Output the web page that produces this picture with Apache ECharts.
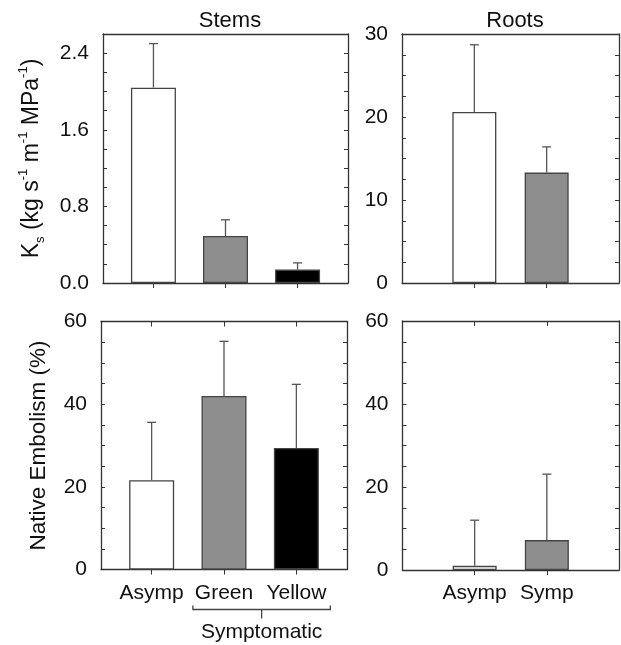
<!DOCTYPE html>
<html>
<head>
<meta charset="utf-8">
<script src="https://cdn.jsdelivr.net/npm/echarts@6/dist/echarts.min.js"></script>
<style>
    html, body {margin: 0; padding: 0; background: #fff;}
    #chart {width: 621px; height: 645px;}
</style>
</head>
<body>
<div id="chart"></div>
<script>
// данные
let stemCats = ['Asymp', 'Green', 'Yellow']
let rootCats = ['Asymp', 'Symp']
let stemKs = [2.04, 0.49, 0.14]
let stemKsErr = [0.46, 0.17, 0.07]
let rootKs = [20.6, 13.3]
let rootKsErr = [8.1, 3.1]
let stemEmb = [21.6, 42.0, 29.4]
let stemEmbErr = [14.0, 13.2, 15.4]
let rootEmb = [1.0, 7.2]
let rootEmbErr = [11.0, 15.9]
let stemColors = ['#ffffff', '#8e8e8e', '#000000']
let rootColors = ['#ffffff', '#8e8e8e']

let ksTicks = [0, 0.8, 1.6, 2.4]
let rootKsTicks = [0, 10, 20, 30]
let embTicks = [0, 20, 40, 60]

let font = 'Liberation Sans'
let lineColor = '#333'
let textColor = '#111'

let grids = [
    {left: 103, top: 34, width: 245, height: 249},
    {left: 402, top: 34, width: 217, height: 249},
    {left: 101, top: 321.5, width: 246, height: 248},
    {left: 402.5, top: 321, width: 216.5, height: 249},
]

function positions(cats) {
    return cats.map((c, i) => i + 1)
}

/**
 * Пара осей X (низ и верх) для панели
 */
function xAxes(gridIndex, cats, min, max, topTicks) {
    let pos = positions(cats)
    let line = {show: true, onZero: false, lineStyle: {color: lineColor, width: 1.3}}
    return [
        {
            type: 'value', gridIndex: gridIndex, min: min, max: max, position: 'bottom',
            axisLine: line, splitLine: {show: false},
            axisTick: {show: true, inside: false, length: 5, customValues: pos, lineStyle: {color: lineColor}},
            axisLabel: {
                show: gridIndex >= 2, customValues: pos, margin: 13,
                fontFamily: font, fontSize: 21, color: textColor,
                formatter: (v) => cats[Math.round(v) - 1] || ''
            },
        },
        {
            type: 'value', gridIndex: gridIndex, min: min, max: max, position: 'top',
            axisLine: line, splitLine: {show: false},
            axisTick: {show: topTicks, inside: true, length: 5, customValues: pos, lineStyle: {color: lineColor}},
            axisLabel: {show: false},
        },
    ]
}

/**
 * Пара осей Y (лево и право) для панели
 */
function yAxes(gridIndex, max, interval, labels, name) {
    let line = {show: true, onZero: false, lineStyle: {color: lineColor, width: 1.3}}
    let tick = {show: true, inside: true, length: 4, lineStyle: {color: lineColor}}
    let left = {
        type: 'value', gridIndex: gridIndex, min: 0, max: max, interval: interval, position: 'left',
        axisLine: line, axisTick: tick, splitLine: {show: false},
        axisLabel: {
            customValues: labels, margin: 14, fontFamily: font, fontSize: 21, color: textColor,
            formatter: (v) => max < 5 ? v.toFixed(1) : String(v)
        },
    }
    if (name) {
        Object.assign(left, name)
    }
    let right = {
        type: 'value', gridIndex: gridIndex, min: 0, max: max, interval: interval, position: 'right',
        axisLine: line, axisTick: tick, splitLine: {show: false}, axisLabel: {show: false},
    }
    return [left, right]
}

function barSeries(gridIndex, values, colors, width) {
    return {
        type: 'bar', xAxisIndex: gridIndex * 2, yAxisIndex: gridIndex * 2,
        barWidth: width, z: 2,
        data: values.map((v, i) => ({
            value: [i + 1, v],
            itemStyle: {color: colors[i], borderColor: '#444', borderWidth: 1.3}
        })),
    }
}

function errSeries(gridIndex, values, errs) {
    return {
        type: 'custom', xAxisIndex: gridIndex * 2, yAxisIndex: gridIndex * 2, z: 3,
        data: values.map((v, i) => [i + 1, v, v + errs[i]]),
        renderItem(params, api) {
            let p0 = api.coord([api.value(0), api.value(1)])
            let p1 = api.coord([api.value(0), api.value(2)])
            let style = {stroke: '#555', lineWidth: 1.3}
            return {
                type: 'group',
                children: [
                    {type: 'line', shape: {x1: p0[0], y1: p0[1], x2: p1[0], y2: p1[1]}, style: style},
                    {type: 'line', shape: {x1: p1[0] - 4.5, y1: p1[1], x2: p1[0] + 4.5, y2: p1[1]}, style: style},
                ]
            }
        },
    }
}

let ksName = {
    name: '{m|K}{sub|s}{m| (kg s}{sup|-1}{m| m}{sup|-1}{m| MPa}{sup|-1}{m|)}',
    nameLocation: 'middle', nameGap: 56, nameRotate: 90,
    nameTextStyle: {
        rich: {
            m: {fontFamily: font, fontSize: 23, color: textColor, lineHeight: 30, verticalAlign: 'middle'},
            sup: {fontFamily: font, fontSize: 13, color: textColor, lineHeight: 13, verticalAlign: 'top'},
            sub: {fontFamily: font, fontSize: 13, color: textColor, lineHeight: 13, verticalAlign: 'bottom'},
        }
    },
}

let embName = {
    name: 'Native Embolism (%)',
    nameLocation: 'middle', nameGap: 51, nameRotate: 90,
    nameTextStyle: {fontFamily: font, fontSize: 22.5, color: textColor},
}

let titleStyle = {fontFamily: font, fontSize: 22, fontWeight: 'normal', color: textColor}

let option = {
    animation: false,
    backgroundColor: '#fff',
    title: [
        {text: 'Stems', left: 225, top: 5, textAlign: 'center', textStyle: titleStyle},
        {text: 'Roots', left: 510, top: 5, textAlign: 'center', textStyle: titleStyle},
    ],
    grid: grids.map(g => Object.assign({outerBoundsMode: 'none', containLabel: false}, g)),
    xAxis: [
        ...xAxes(0, stemCats, 0.3, 3.7, false),
        ...xAxes(1, rootCats, 0, 3, false),
        ...xAxes(2, stemCats, 0.3, 3.7, true),
        ...xAxes(3, rootCats, 0, 3, true),
    ],
    yAxis: [
        ...yAxes(0, 2.6, 0.2, ksTicks, ksName),
        ...yAxes(1, 30, 2.5, rootKsTicks, null),
        ...yAxes(2, 60, 5, embTicks, embName),
        ...yAxes(3, 60, 5, embTicks, null),
    ],
    series: [
        barSeries(0, stemKs, stemColors, 45),
        errSeries(0, stemKs, stemKsErr),
        barSeries(1, rootKs, rootColors, 44),
        errSeries(1, rootKs, rootKsErr),
        barSeries(2, stemEmb, stemColors, 45),
        errSeries(2, stemEmb, stemEmbErr),
        barSeries(3, rootEmb, rootColors, 44),
        errSeries(3, rootEmb, rootEmbErr),
    ],
}

let chart = echarts.init(document.getElementById('chart'), null, {renderer: 'canvas'})
chart.setOption(option)

// скобка "Symptomatic" под Green и Yellow
let bx0 = chart.convertToPixel({xAxisIndex: 4}, 1.57)
let bx1 = chart.convertToPixel({xAxisIndex: 4}, 3.47)
let bxc = (bx0 + bx1) / 2
let by = chart.convertToPixel({yAxisIndex: 4}, 0) + 40
let bStyle = {stroke: '#444', lineWidth: 1.3}
chart.setOption({
    graphic: [
        {type: 'polyline', shape: {points: [[bx0, by - 4], [bx0, by], [bx1, by], [bx1, by - 4]]}, style: bStyle},
        {type: 'line', shape: {x1: bxc, y1: by, x2: bxc, y2: by + 9}, style: bStyle},
        {type: 'text', x: bxc, y: by + 23,
            style: {text: 'Symptomatic', fontFamily: font, fontSize: 21, fill: textColor, align: 'center', verticalAlign: 'middle'}},
    ]
})
</script>
</body>
</html>
